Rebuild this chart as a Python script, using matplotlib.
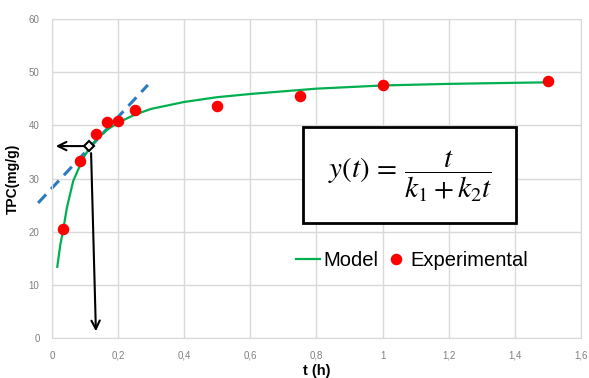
import numpy as np
import matplotlib
matplotlib.use('Agg')
import matplotlib.pyplot as plt
from matplotlib.patches import Rectangle

plt.rcParams['font.family'] = ['Liberation Sans', 'DejaVu Sans']
plt.rcParams['mathtext.fontset'] = 'stix'

# experimental points
exp_t = [0.033, 0.085, 0.133, 0.167, 0.2, 0.25, 0.5, 0.75, 1.0, 1.5]
exp_y = [20.5, 33.3, 38.4, 40.6, 40.8, 42.8, 43.6, 45.5, 47.5, 48.3]

# model curve
model_t = [0.016, 0.025, 0.034, 0.045, 0.064, 0.08, 0.1, 0.115, 0.14, 0.17, 0.2,
           0.25, 0.3, 0.4, 0.5, 0.6, 0.7, 0.8, 1.0, 1.2, 1.4, 1.515]
model_y = [13.4, 17.5, 20.4, 24.5, 29.5, 31.8, 34.4, 35.9, 37.7, 39.3, 40.5,
           42.0, 43.1, 44.4, 45.3, 45.9, 46.4, 46.9, 47.5, 47.8, 48.0, 48.1]

# tangent line at the start
tan_t = [-0.042, 0.29]
tan_y = [25.4, 47.6]

# marked point
pt_t, pt_y = 0.113, 36.1

xticks = [0, 0.2, 0.4, 0.6, 0.8, 1.0, 1.2, 1.4, 1.6]
xlabels = ['0', '0,2', '0,4', '0,6', '0,8', '1', '1,2', '1,4', '1,6']
yticks = [0, 10, 20, 30, 40, 50, 60]

fig = plt.figure(figsize=(5.89, 3.78), dpi=100)
ax = fig.add_axes([0.0883, 0.1058, 0.8981, 0.8439])

ax.plot(tan_t, tan_y, color='#2a7ac0', lw=2.2, dashes=(3.8, 2.4), clip_on=False, zorder=2)
ax.plot(model_t, model_y, color='#00b050', lw=1.6, label='Model', zorder=3)
ax.plot(exp_t, exp_y, 'o', color='#ff0000', ms=7.3, label='Experimental', zorder=4)

ax.annotate('', xy=(0.003, pt_y), xytext=(pt_t - 0.008, pt_y),
            arrowprops=dict(arrowstyle='->', color='black', lw=1.5, mutation_scale=15))
ax.annotate('', xy=(0.133, 0.75), xytext=(pt_t + 0.005, pt_y - 0.8),
            arrowprops=dict(arrowstyle='->', color='black', lw=1.5, mutation_scale=15))
ax.plot([pt_t], [pt_y], 'D', mfc='white', mec='black', mew=1.5, ms=5.5, zorder=6)

ax.add_patch(Rectangle((0.759, 21.6), 0.644, 18.1, fill=True, fc='white',
                       ec='black', lw=2, zorder=5))
ax.text(1.082, 30.4, r'$y(t)\,=\,\dfrac{t}{k_1+k_2t}$', fontsize=21,
        ha='center', va='center', zorder=6)

ax.set_xlim(0, 1.6)
ax.set_ylim(0, 60)
ax.set_xticks(xticks)
ax.set_xticklabels(xlabels)
ax.set_yticks(yticks)
ax.tick_params(length=0, labelsize=7, labelcolor='#7f7f7f', pad=9)
ax.grid(True, color='#d9d9d9', lw=1)
ax.set_axisbelow(True)
for s in ax.spines.values():
    s.set_color('#d9d9d9')

ax.set_ylabel('TPC(mg/g)', fontsize=10, fontweight='bold', labelpad=6)
fig.text(0.537, 1 - 371 / 378, 't (h)', fontsize=10.5, fontweight='bold',
         ha='center', va='center')

ax.legend(loc='center', bbox_to_anchor=(0.70, 0.312), bbox_transform=fig.transFigure,
          ncol=2, frameon=False, fontsize=14.5, handlelength=1.2, handletextpad=0.12,
          columnspacing=0.3)

fig.savefig('out.png', dpi=100)
